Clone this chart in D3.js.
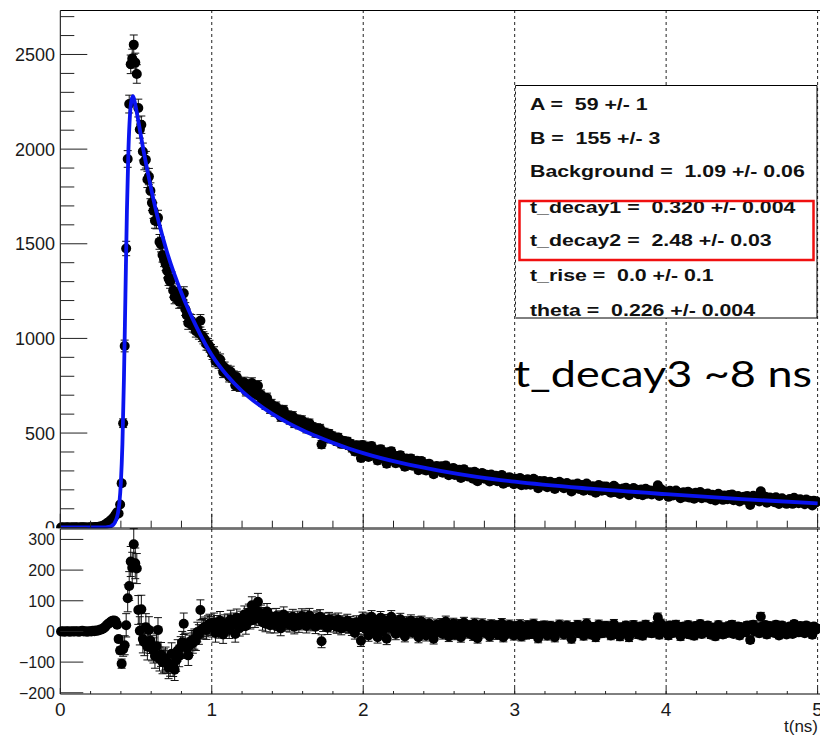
<!DOCTYPE html>
<html>
<head>
<meta charset="utf-8">
<script src="https://cdn.jsdelivr.net/npm/d3@7"></script>
<style>
  body { margin: 0; background: #fff; }
  svg { display: block; }
  text { white-space: pre; }
</style>
</head>
<body>
<svg id="chart" width="820" height="736"></svg>
<script>
// Time binning of the histogram (ns)
const binStart = 0.005;
const binWidth = 0.01;

// Counts per bin
const counts = [
  1,2,0,1,2,1,0,2,1,1,
  2,1,0,2,3,1,2,0,1,2,
  1,3,2,4,3,5,7,8,11,15,
  22,27,33,40,48,57,69,82,75,123,
  235,552,960,1475,1948,2238,2448,2478,2552,2457,
  2397,2217,2104,2129,1987,1935,1944,1840,1855,1780,
  1717,1675,1622,1619,1637,1510,1496,1441,1417,1395,
  1357,1316,1301,1315,1253,1218,1225,1235,1194,1199,
  1196,1238,1155,1122,1081,1096,1093,1067,1062,1039,
  1051,1028,1093,1015,1003,993,969,969,959,937,
  919,926,880,897,872,888,861,822,846,826,
  829,798,824,796,800,752,796,768,747,764,
  749,767,723,747,754,721,764,723,706,729,
  750,693,702,667,683,651,685,653,629,652,
  634,614,639,613,622,586,609,621,587,587,
  593,571,580,589,552,563,571,545,554,567,
  541,555,524,539,551,521,532,519,500,526,
  508,523,440,491,503,488,471,496,481,484,
  467,476,456,476,461,443,460,449,442,456,
  434,444,421,433,403,436,415,420,368,437,
  422,399,429,374,404,431,384,410,392,355,
  396,415,368,382,399,338,373,387,404,361,
  370,341,379,358,383,341,363,322,365,344,
  349,366,327,350,334,354,304,335,352,323,
  336,302,324,338,313,325,283,319,326,302,
  314,324,290,313,328,300,277,311,300,315,
  278,302,288,306,263,291,309,278,291,270,
  293,279,259,296,279,246,283,269,289,275,
  258,280,269,244,281,271,257,275,245,268,
  259,278,232,261,264,241,267,248,257,230,
  259,239,251,262,224,247,252,227,256,241,
  227,247,258,233,242,209,247,236,226,247,
  238,214,231,243,220,235,204,236,225,243,
  220,232,209,226,236,213,226,191,228,218,
  224,233,205,213,226,195,216,233,207,216,
  196,219,209,185,216,225,204,195,217,208,
  218,196,208,185,203,221,188,208,198,178,
  202,207,187,211,191,172,201,194,210,186,
  201,177,192,202,171,194,206,180,191,196,
  176,192,183,198,224,168,204,184,193,187,
  182,163,195,183,170,188,196,171,184,156,
  181,187,164,173,190,159,181,174,153,185,
  166,176,189,156,169,177,160,181,170,150,
  174,163,144,169,179,158,163,147,170,161,
  150,173,162,176,145,163,154,167,138,156,
  160,164,146,168,153,120,158,169,146,154,
  158,139,192,160,146,164,132,152,159,143,
  154,135,161,145,125,149,156,137,144,126,
  141,151,145,126,158,136,146,129,150,137,
  142,124,149,131,143,136,117,143,132,138
];

// Data minus fit, per bin
const residuals = [
  0,1,-1,0,1,0,-1,1,0,0,
  1,0,-1,1,2,0,1,-1,0,1,
  0,2,1,3,2,4,6,7,10,14,
  20,24,28,32,35,36,33,22,-25,-62,
  -105,-58,-45,20,108,148,228,208,284,222,
  205,70,2,72,-25,-35,14,-50,5,-30,
  -55,-62,-80,-48,5,-90,-75,-100,-95,-88,
  -100,-118,-110,-73,-112,-125,-95,-62,-80,-52,
  -35,25,-40,-55,-78,-45,-30,-38,-25,-30,
  -2,-10,70,7,10,15,5,20,25,18,
  12,30,-5,22,8,35,18,-10,25,15,
  28,5,40,20,32,-8,45,25,12,38,
  30,55,18,48,62,35,85,50,40,70,
  97,45,60,30,52,25,65,38,20,48,
  35,20,50,28,42,10,38,55,25,30,
  40,22,35,48,15,30,42,20,33,50,
  28,45,18,36,52,25,40,30,15,44,
  30,48,-32,22,38,26,12,40,28,35,
  20,32,15,38,25,10,30,22,18,35,
  15,28,8,22,-5,30,12,20,-30,42,
  29,8,40,-13,19,48,3,32,16,-19,
  24,45,0,16,35,-24,13,29,48,8,
  19,-8,32,13,40,0,24,-16,29,10,
  16,35,-3,22,8,29,-19,13,32,5,
  19,-13,10,26,3,16,-24,13,22,0,
  13,24,-8,16,32,6,-16,19,10,26,
  -10,16,3,22,-19,10,29,0,14,-6,
  19,6,-13,26,10,-22,16,3,24,11,
  -5,18,8,-16,22,13,0,19,-10,14,
  6,26,-19,11,16,-6,21,3,13,-13,
  16,-3,10,22,-16,8,14,-10,19,5,
  -8,13,24,0,10,-22,16,6,-3,19,
  10,-13,5,18,-5,11,-19,14,3,22,
  0,13,-10,8,19,-3,10,-24,14,5,
  11,21,-6,3,16,-14,8,26,0,10,
  -10,14,5,-19,13,22,2,-6,16,8,
  18,-3,10,-13,6,24,-8,13,3,-16,
  8,14,-5,19,0,-19,11,5,21,-2,
  13,-10,6,16,-14,10,22,-3,8,14,
  -6,11,3,18,45,-11,26,6,16,10,
  5,-13,19,8,-5,14,22,-2,11,-16,
  10,16,-6,3,21,-10,13,6,-14,18,
  0,11,24,-8,5,14,-3,19,8,-11,
  13,3,-16,10,21,0,6,-10,14,5,
  -5,18,8,22,-8,11,2,16,-13,6,
  10,14,-3,19,5,-28,11,22,0,8,
  13,-6,48,16,3,21,-10,10,18,2,
  14,-5,22,6,-13,11,19,0,8,-10,
  5,16,10,-8,24,3,13,-3,18,6,
  11,-6,19,2,14,8,-11,16,5,10
];

// Statistical error per bin
const errors = [
  1,1,1,1,1,1,1,1,1,1,
  1,1,1,1,1,1,1,1,1,1,
  1,2,1,2,2,2,3,3,3,4,
  5,5,6,6,7,8,8,9,9,11,
  15,23,31,38,44,47,49,50,51,50,
  49,47,46,46,45,44,44,43,43,42,
  41,41,40,40,40,39,39,38,38,37,
  37,36,36,36,35,35,35,35,35,35,
  35,35,34,33,33,33,33,33,33,32,
  32,32,33,32,32,32,31,31,31,31,
  30,30,30,30,30,30,29,29,29,29,
  29,28,29,28,28,27,28,28,27,28,
  27,28,27,27,27,27,28,27,27,27,
  27,26,26,26,26,26,26,26,25,26,
  25,25,25,25,25,24,25,25,24,24,
  24,24,24,24,23,24,24,23,24,24,
  23,24,23,23,23,23,23,23,22,23,
  23,23,21,22,22,22,22,22,22,22,
  22,22,21,22,21,21,21,21,21,21,
  21,21,21,21,20,21,20,20,19,21,
  20,20,20,19,20,20,20,20,20,19,
  20,20,19,19,20,19,19,19,20,19,
  19,19,19,19,19,18,19,18,19,18,
  19,19,18,18,18,19,18,18,18,18,
  18,18,18,18,18,18,17,18,18,17,
  18,18,17,18,18,17,17,17,17,17,
  17,17,17,17,16,17,17,17,17,16,
  17,17,16,17,17,16,17,16,17,16,
  16,16,16,16,16,16,16,16,16,16,
  16,16,15,16,16,16,16,16,16,15,
  16,15,16,16,15,16,16,15,16,15,
  15,16,16,15,15,15,16,15,15,15,
  15,15,15,15,15,15,15,15,15,15,
  15,15,15,15,15,15,15,14,15,15,
  15,15,14,15,15,14,15,15,14,15,
  14,15,14,14,15,15,14,14,15,14,
  15,14,14,14,14,15,14,14,14,14,
  14,14,14,14,14,14,14,14,14,14,
  14,13,14,14,13,14,14,13,14,14,
  13,14,13,14,15,13,14,13,14,14,
  13,13,14,13,13,14,14,13,13,13,
  13,13,13,13,13,13,13,13,13,13,
  13,13,13,13,13,13,13,13,13,12,
  13,13,12,13,13,13,13,12,13,13,
  12,13,13,13,12,13,12,13,12,12,
  12,13,12,13,12,11,12,13,12,12,
  12,12,14,12,12,12,12,12,12,12,
  12,12,12,12,11,12,12,12,12,11,
  12,12,12,11,12,12,12,11,12,12,
  12,11,12,11,12,12,11,12,11,12
];

// Fitted curve, sampled at these times (ns)
const fitTimes = [0, 0.30, 0.32, 0.34, 0.35, 0.36, 0.37, 0.38, 0.39, 0.40, 0.41, 0.42, 0.43,
  0.44, 0.45, 0.46, 0.47, 0.48, 0.49, 0.50, 0.55, 0.60, 0.65, 0.70, 0.80, 0.90, 1.00,
  1.10, 1.20, 1.30, 1.40, 1.50, 1.60, 1.70, 1.80, 1.90, 2.00, 2.25, 2.50, 2.75, 3.00,
  3.50, 4.00, 4.50, 5.00];
const fitValues = [1, 1, 4, 10, 16, 27, 45, 75, 130, 240, 440, 780, 1230,
  1680, 2000, 2180, 2258, 2280, 2255, 2215, 1990, 1790, 1615, 1468, 1240, 1060, 912,
  805, 722, 656, 601, 555, 515, 480, 448, 420, 394, 342, 302, 269, 243,
  206, 177, 151, 128];

// Fit parameters shown in the statistics box
const paramNames  = ["A", "B", "Background", "t_decay1", "t_decay2", "t_rise", "theta"];
const paramValues = ["59", "155", "1.09", "0.320", "2.48", "0.0", "0.226"];
const paramErrors = ["1", "3", "0.06", "0.004", "0.03", "0.1", "0.004"];
const highlighted = ["t_decay1", "t_decay2"];
const note = "t_decay3 ~8 ns";

// Axis ticks
const xMajorTicks = [0, 1, 2, 3, 4, 5];
const xMinorStep = 0.2;
const yTopMajorTicks = [0, 500, 1000, 1500, 2000, 2500];
const yTopMinorStep = 100;
const yResTicks = [-200, -100, 0, 100, 200, 300];
const gridTimes = [1, 2, 3, 4, 5];
const xTitle = "t(ns)";

// ---------------------------------------------------------------
const svg = d3.select("#chart");
const FONT = "'Liberation Sans', Arial, Helvetica, sans-serif";
const W = 820;

const x = d3.scaleLinear().domain([0, 5]).range([60.3, 817.6]);
const yTop = d3.scaleLinear().domain([0, 2735]).range([527.7, 10]);
const yRes = d3.scaleLinear().domain([-204, 334]).range([694, 529]);

const points = counts.map((c, i) => ({
  t: binStart + i * binWidth,
  c: c,
  r: residuals[i],
  e: errors[i]
}));

const frameLeft = x(0);
const frameRight = W + 2;

svg.append("defs").append("clipPath").attr("id", "padTop")
  .append("rect").attr("x", 0).attr("y", 0).attr("width", W).attr("height", 528.5);

function tickValues(lo, hi, step) {
  const out = [];
  for (let v = lo; v <= hi + 1e-9; v += step) out.push(+v.toFixed(6));
  return out;
}

function drawPanel(g, yScale, yKey) {
  const [yBottom, yTopPx] = yScale.range();
  // vertical grid
  g.append("g").selectAll("line").data(gridTimes).join("line")
    .attr("x1", d => x(d)).attr("x2", d => x(d))
    .attr("y1", yTopPx).attr("y2", yBottom)
    .attr("stroke", "#222").attr("stroke-width", 1)
    .attr("stroke-dasharray", "3,3");

  // error bars with end caps
  const eg = g.append("g").attr("stroke", "#111").attr("stroke-width", 1);
  eg.selectAll("line.bar").data(points).join("line").attr("class", "bar")
    .attr("x1", d => x(d.t)).attr("x2", d => x(d.t))
    .attr("y1", d => yScale(d[yKey] - d.e)).attr("y2", d => yScale(d[yKey] + d.e));
  eg.selectAll("line.capHi").data(points).join("line").attr("class", "capHi")
    .attr("x1", d => x(d.t) - 4).attr("x2", d => x(d.t) + 4)
    .attr("y1", d => yScale(d[yKey] + d.e)).attr("y2", d => yScale(d[yKey] + d.e));
  eg.selectAll("line.capLo").data(points).join("line").attr("class", "capLo")
    .attr("x1", d => x(d.t) - 4).attr("x2", d => x(d.t) + 4)
    .attr("y1", d => yScale(d[yKey] - d.e)).attr("y2", d => yScale(d[yKey] - d.e));

  // markers
  g.append("g").selectAll("circle").data(points).join("circle")
    .attr("cx", d => x(d.t)).attr("cy", d => yScale(d[yKey]))
    .attr("r", 5).attr("fill", "#000");
}

function drawFrame(g, yTopPx, yBottom) {
  const fr = g.append("g").attr("stroke", "#000").attr("stroke-width", 1).attr("fill", "none");
  fr.append("line").attr("x1", frameLeft).attr("x2", frameRight).attr("y1", yTopPx).attr("y2", yTopPx);
  fr.append("line").attr("x1", frameLeft).attr("x2", frameRight).attr("y1", yBottom).attr("y2", yBottom);
  fr.append("line").attr("x1", frameLeft).attr("x2", frameLeft).attr("y1", yTopPx).attr("y2", yBottom);
}

// ---------------- upper pad: data and fit ----------------
const gTop = svg.append("g").attr("clip-path", "url(#padTop)");
drawPanel(gTop, yTop, "c");

const fitLine = d3.line()
  .x((d, i) => x(fitTimes[i]))
  .y(d => yTop(d))
  .curve(d3.curveMonotoneX);
gTop.append("path").datum(fitValues)
  .attr("d", fitLine)
  .attr("fill", "none").attr("stroke", "#0a14f0")
  .attr("stroke-width", 3.8).attr("stroke-linejoin", "round");

drawFrame(gTop, yTop.range()[1] + 0.5, yTop.range()[0] + 0.3);

// y ticks (inside the frame)
const tickTop = gTop.append("g").attr("stroke", "#222").attr("stroke-width", 1);
tickTop.selectAll("line.yt").data(tickValues(0, 2700, yTopMinorStep)).join("line")
  .attr("class", "yt")
  .attr("x1", frameLeft).attr("x2", d => frameLeft + (yTopMajorTicks.includes(d) ? 27 : 14))
  .attr("y1", d => yTop(d)).attr("y2", d => yTop(d));
// x ticks along the bottom edge
tickTop.selectAll("line.xt").data(tickValues(0, 5, xMinorStep)).join("line")
  .attr("class", "xt")
  .attr("x1", d => x(d)).attr("x2", d => x(d))
  .attr("y1", yTop(0)).attr("y2", d => yTop(0) - (xMajorTicks.includes(d) ? 14 : 7));

gTop.append("g").selectAll("text").data(yTopMajorTicks).join("text")
  .attr("x", 55).attr("y", d => yTop(d)).attr("dy", "0.36em")
  .attr("text-anchor", "end").attr("font-family", FONT).attr("font-size", 18)
  .attr("fill", "#1a1a1a").text(d => d);

// statistics box
const boxX = 515.5, boxY = 85.5, boxW = 301.5, boxH = 232.5;
gTop.append("rect").attr("x", boxX + 1).attr("y", boxY).attr("width", boxW - 1).attr("height", boxH)
  .attr("fill", "#fff");
gTop.append("path")
  .attr("d", `M${boxX},${boxY}H${boxX + boxW}V${boxY + boxH}H${boxX}`)
  .attr("fill", "none").attr("stroke", "#000").attr("stroke-width", 1);
gTop.append("line").attr("x1", boxX).attr("x2", boxX).attr("y1", boxY).attr("y2", boxY + boxH)
  .attr("stroke", "#222").attr("stroke-dasharray", "3,3");

const baselines = [110, 144, 177, 213, 246, 281, 316];
const statText = gTop.append("g").attr("transform", "translate(530,0) scale(1.255,1)");
statText.selectAll("text").data(paramNames).join("text")
  .attr("x", 0).attr("y", (d, i) => baselines[i])
  .attr("font-family", FONT).attr("font-weight", "bold").attr("font-size", 17)
  .attr("fill", "#111")
  .text((d, i) => `${d} =  ${paramValues[i]} +/- ${paramErrors[i]}`);

// highlight frame around the two decay constants
const hiIdx = highlighted.map(n => paramNames.indexOf(n));
const hiMid = (baselines[hiIdx[0]] + baselines[hiIdx[hiIdx.length - 1]]) / 2;
gTop.append("rect")
  .attr("x", 519.5).attr("y", hiMid - 28.5)
  .attr("width", 294).attr("height", 59)
  .attr("fill", "none").attr("stroke", "#f01010").attr("stroke-width", 2.5);

gTop.append("text")
  .attr("x", 514).attr("y", 387)
  .attr("font-family", "Lato, 'Open Sans', sans-serif").attr("font-size", 37)
  .attr("textLength", 298).attr("lengthAdjust", "spacingAndGlyphs")
  .attr("fill", "#000").text(note);

// ---------------- lower pad: residuals ----------------
const gRes = svg.append("g");
gRes.append("rect").attr("x", 0).attr("y", 528.5).attr("width", W).attr("height", 736 - 528.5)
  .attr("fill", "#fff");
drawPanel(gRes, yRes, "r");
drawFrame(gRes, 529, 694);

const tickRes = gRes.append("g").attr("stroke", "#222").attr("stroke-width", 1);
tickRes.selectAll("line.yt").data(yResTicks).join("line").attr("class", "yt")
  .attr("x1", frameLeft).attr("x2", frameLeft + 23)
  .attr("y1", d => yRes(d)).attr("y2", d => yRes(d));
tickRes.selectAll("line.xt").data(tickValues(0, 5, xMinorStep)).join("line").attr("class", "xt")
  .attr("x1", d => x(d)).attr("x2", d => x(d))
  .attr("y1", 694).attr("y2", d => 694 - (xMajorTicks.includes(d) ? 6 : 3));

gRes.append("g").selectAll("text").data(yResTicks).join("text")
  .attr("x", 55).attr("y", d => yRes(d)).attr("dy", "0.36em")
  .attr("text-anchor", "end").attr("font-family", FONT).attr("font-size", 16)
  .attr("fill", "#1a1a1a").text(d => d < 0 ? "\u2212" + Math.abs(d) : d);

gRes.append("g").selectAll("text").data(xMajorTicks).join("text")
  .attr("x", d => x(d)).attr("y", 716)
  .attr("text-anchor", "middle").attr("font-family", FONT).attr("font-size", 19)
  .attr("fill", "#1a1a1a").text(d => d);

gRes.append("text").attr("x", 818).attr("y", 732)
  .attr("text-anchor", "end").attr("font-family", FONT).attr("font-size", 17)
  .attr("fill", "#1a1a1a").text(xTitle);
</script>
</body>
</html>
